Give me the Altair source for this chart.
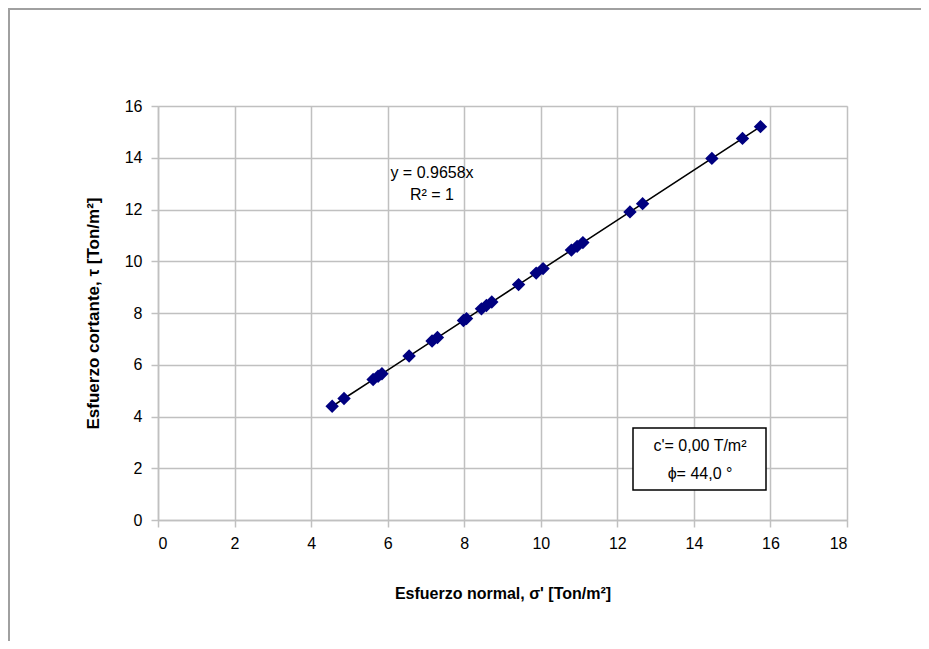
import altair as alt
import pandas as pd

sigma = [4.55, 4.86, 5.62, 5.75, 5.85, 6.56, 7.16, 7.30, 7.98, 8.06, 8.45, 8.58, 8.72,
         9.42, 9.88, 10.06, 10.80, 10.95, 11.10, 12.33, 12.66, 14.47, 15.27, 15.74]
slope = 0.9658
tau = [round(slope * s, 3) for s in sigma]

x_ticks = [0, 2, 4, 6, 8, 10, 12, 14, 16, 18]
y_ticks = [0, 2, 4, 6, 8, 10, 12, 14, 16]

eq_lines = ["y = 0.9658x", "R² = 1"]
box_lines = ["c'=  0,00 T/m²", "ϕ= 44,0 °"]

df = pd.DataFrame({"sigma": sigma, "tau": tau})
FONT = "Liberation Sans"

W, H = 689, 414

xs = alt.Scale(domain=[0, 18], nice=False)
ys = alt.Scale(domain=[0, 16], nice=False)

common = dict(grid=True, gridColor="#c0c0c0", gridWidth=1.5, domainColor="#c0c0c0",
              domainWidth=1.5, tickColor="#c0c0c0", tickWidth=1.5, tickSize=7,
              labelFont=FONT, labelFontSize=16, labelColor="black",
              titleFont=FONT, titleFontWeight="bold", titleColor="black")

x_enc = alt.X("sigma:Q", scale=xs, axis=alt.Axis(
    values=x_ticks, title="Esfuerzo normal, σ' [Ton/m²]", labelPadding=8,
    titlePadding=34, titleFontSize=16, **common))
y_enc = alt.Y("tau:Q", scale=ys, axis=alt.Axis(
    values=y_ticks, title="Esfuerzo cortante, τ [Ton/m²]", labelPadding=9,
    titlePadding=22, titleFontSize=17, **common))

base = alt.Chart(df)

frame = alt.Chart(pd.DataFrame({"a": [0]})).mark_rect(
    fill=None, stroke="#a0a0a0", strokeWidth=2, clip=False
).encode(x=alt.value(-149), x2=alt.value(800), y=alt.value(-97), y2=alt.value(600))

line = base.mark_line(color="black", strokeWidth=1.6).encode(
    x=x_enc, y=y_enc)

pts = base.mark_point(shape="diamond", filled=True, color="#000080", size=180, opacity=1).encode(
    x=alt.X("sigma:Q", scale=xs), y=alt.Y("tau:Q", scale=ys))

eq = alt.Chart(pd.DataFrame({"t": eq_lines, "yy": [67, 89]})).mark_text(
    font=FONT, fontSize=16, color="black", align="center", baseline="middle"
).encode(x=alt.value(274), y=alt.Y("yy:Q", scale=None), text="t:N")

box = alt.Chart(pd.DataFrame({"a": [0]})).mark_rect(
    fill="white", stroke="black", strokeWidth=1.5
).encode(x=alt.value(475), x2=alt.value(608), y=alt.value(322), y2=alt.value(384))

box_txt = alt.Chart(pd.DataFrame({"t": box_lines, "yy": [340, 368]})).mark_text(
    font=FONT, fontSize=16, color="black", align="center", baseline="middle"
).encode(x=alt.value(542), y=alt.Y("yy:Q", scale=None), text="t:N")

chart = alt.layer(frame, line, pts, eq, box, box_txt).properties(
    width=W, height=H,
    padding={"left": 150, "top": 98, "right": 74, "bottom": 121},
    autosize=alt.AutoSizeParams(type="none"),
).configure_view(stroke=None).configure(background="white")

chart.save("out.html", embed_options={"renderer": "svg", "actions": False})
